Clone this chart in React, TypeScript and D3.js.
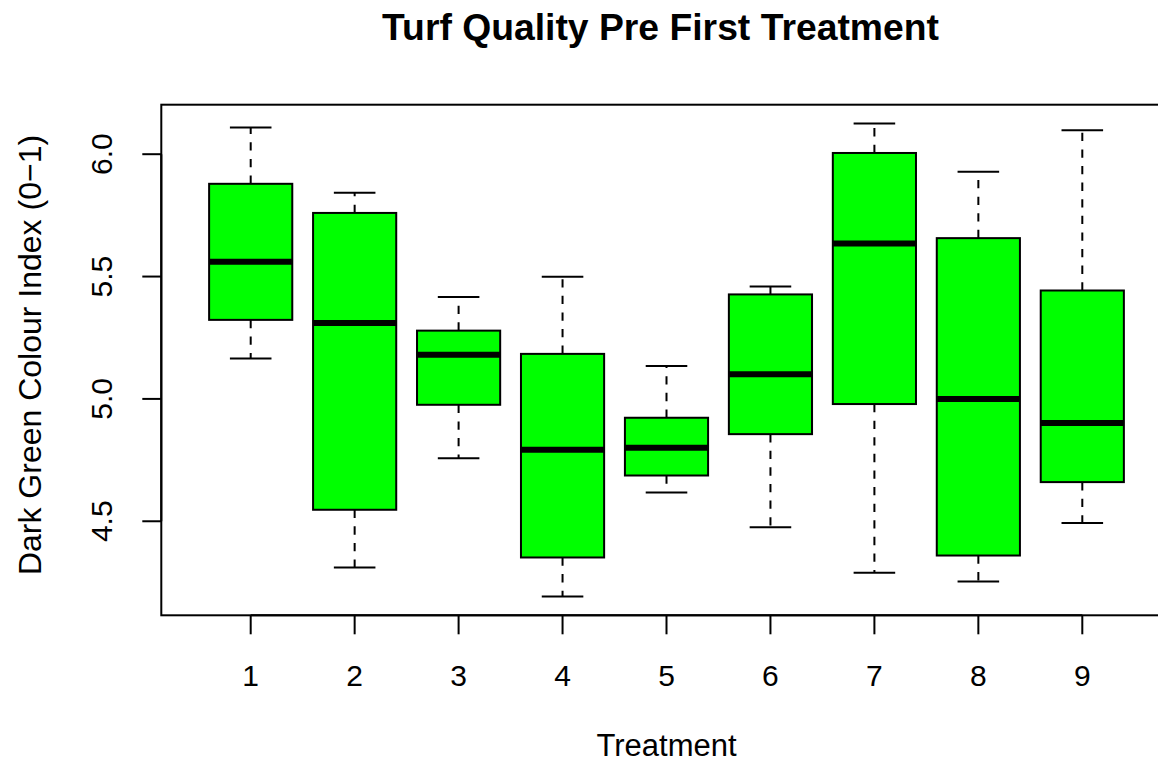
import React from "react";
import * as d3 from "d3";

// Box-plot summary per treatment (lower whisker, hinges, median, upper whisker)
const treatments: string[] = ["1", "2", "3", "4", "5", "6", "7", "8", "9"];
const lowerWhisker: number[] = [5.165, 4.311, 4.758, 4.193, 4.618, 4.476, 4.29, 4.254, 4.493];
const lowerHinge: number[] = [5.323, 4.547, 4.976, 4.352, 4.687, 4.856, 4.979, 4.36, 4.66];
const medians: number[] = [5.56, 5.31, 5.18, 4.792, 4.8, 5.101, 5.635, 5.0, 4.902];
const upperHinge: number[] = [5.879, 5.76, 5.279, 5.184, 4.923, 5.427, 6.005, 5.657, 5.443];
const upperWhisker: number[] = [6.109, 5.842, 5.416, 5.499, 5.134, 5.459, 6.125, 5.928, 6.098];
const yTicks: number[] = [4.5, 5.0, 5.5, 6.0];

const title = "Turf Quality Pre First Treatment";
const xTitle = "Treatment";
const yTitle = "Dark Green Colour Index (0\u22121)";

const W = 1158;
const H = 765;
const plot = { left: 161.3, top: 104.7, bottom: 615.3, right: 1171.7 };
const FONT = "'Liberation Sans', Arial, Helvetica, sans-serif";
const FILL = "#00ff00";

export default function App() {
  const n = treatments.length;
  const xExt = n * 0.04;
  const x = d3
    .scaleLinear()
    .domain([0.5 - xExt, n + 0.5 + xExt])
    .range([plot.left, plot.right]);

  const lo = d3.min(lowerWhisker) as number;
  const hi = d3.max(upperWhisker) as number;
  const yExt = (hi - lo) * 0.04;
  const y = d3
    .scaleLinear()
    .domain([lo - yExt, hi + yExt])
    .range([plot.bottom, plot.top]);

  const boxHalf = 0.4;
  const capHalf = 0.2;
  const tickLen = 19;
  const midX = (plot.left + plot.right) / 2;

  return (
    <svg
      width={W}
      height={H}
      style={{ position: "absolute", left: 0, top: 0, background: "#fff" }}
      fontFamily={FONT}
    >
      <rect x={0} y={0} width={W} height={H} fill="#fff" />

      {/* boxes */}
      {treatments.map((t, i) => {
        const c = i + 1;
        const cx = x(c);
        const bx0 = x(c - boxHalf);
        const bx1 = x(c + boxHalf);
        const sx0 = x(c - capHalf);
        const sx1 = x(c + capHalf);
        return (
          <g key={t}>
            <line
              x1={cx}
              x2={cx}
              y1={y(upperHinge[i])}
              y2={y(upperWhisker[i])}
              stroke="#000"
              strokeWidth={2}
              strokeDasharray="8.3 8.3"
            />
            <line
              x1={cx}
              x2={cx}
              y1={y(lowerHinge[i])}
              y2={y(lowerWhisker[i])}
              stroke="#000"
              strokeWidth={2}
              strokeDasharray="8.3 8.3"
            />
            <line x1={sx0} x2={sx1} y1={y(upperWhisker[i])} y2={y(upperWhisker[i])} stroke="#000" strokeWidth={2} />
            <line x1={sx0} x2={sx1} y1={y(lowerWhisker[i])} y2={y(lowerWhisker[i])} stroke="#000" strokeWidth={2} />
            <rect
              x={bx0}
              y={y(upperHinge[i])}
              width={bx1 - bx0}
              height={y(lowerHinge[i]) - y(upperHinge[i])}
              fill={FILL}
              stroke="#000"
              strokeWidth={2}
            />
            <line
              x1={bx0}
              x2={bx1}
              y1={y(medians[i])}
              y2={y(medians[i])}
              stroke="#000"
              strokeWidth={6}
            />
          </g>
        );
      })}

      {/* plot frame */}
      <rect
        x={plot.left}
        y={plot.top}
        width={plot.right - plot.left}
        height={plot.bottom - plot.top}
        fill="none"
        stroke="#000"
        strokeWidth={2}
      />

      {/* x axis */}
      <line x1={x(1)} x2={x(n)} y1={plot.bottom} y2={plot.bottom} stroke="#000" strokeWidth={2} />
      {treatments.map((t, i) => (
        <g key={"xt" + t}>
          <line
            x1={x(i + 1)}
            x2={x(i + 1)}
            y1={plot.bottom}
            y2={plot.bottom + tickLen}
            stroke="#000"
            strokeWidth={2}
          />
          <text x={x(i + 1)} y={685.5} textAnchor="middle" fontSize={30} fill="#000">
            {t}
          </text>
        </g>
      ))}

      {/* y axis */}
      <line x1={plot.left} x2={plot.left} y1={y(yTicks[0])} y2={y(yTicks[yTicks.length - 1])} stroke="#000" strokeWidth={2} />
      {yTicks.map((v) => (
        <g key={"yt" + v}>
          <line
            x1={plot.left - tickLen}
            x2={plot.left}
            y1={y(v)}
            y2={y(v)}
            stroke="#000"
            strokeWidth={2}
          />
          <text
            transform={`translate(112,${y(v)}) rotate(-90)`}
            textAnchor="middle"
            fontSize={30}
            fill="#000"
          >
            {d3.format(".1f")(v)}
          </text>
        </g>
      ))}

      {/* titles */}
      <text x={660.5} y={40} textAnchor="middle" fontSize={37.3} fontWeight="bold" fill="#000">
        {title}
      </text>
      <text x={midX} y={756} textAnchor="middle" fontSize={31} fill="#000">
        {xTitle}
      </text>
      <text
        transform={`translate(41,355) rotate(-90)`}
        textAnchor="middle"
        fontSize={32}
        fill="#000"
      >
        {yTitle}
      </text>
    </svg>
  );
}
